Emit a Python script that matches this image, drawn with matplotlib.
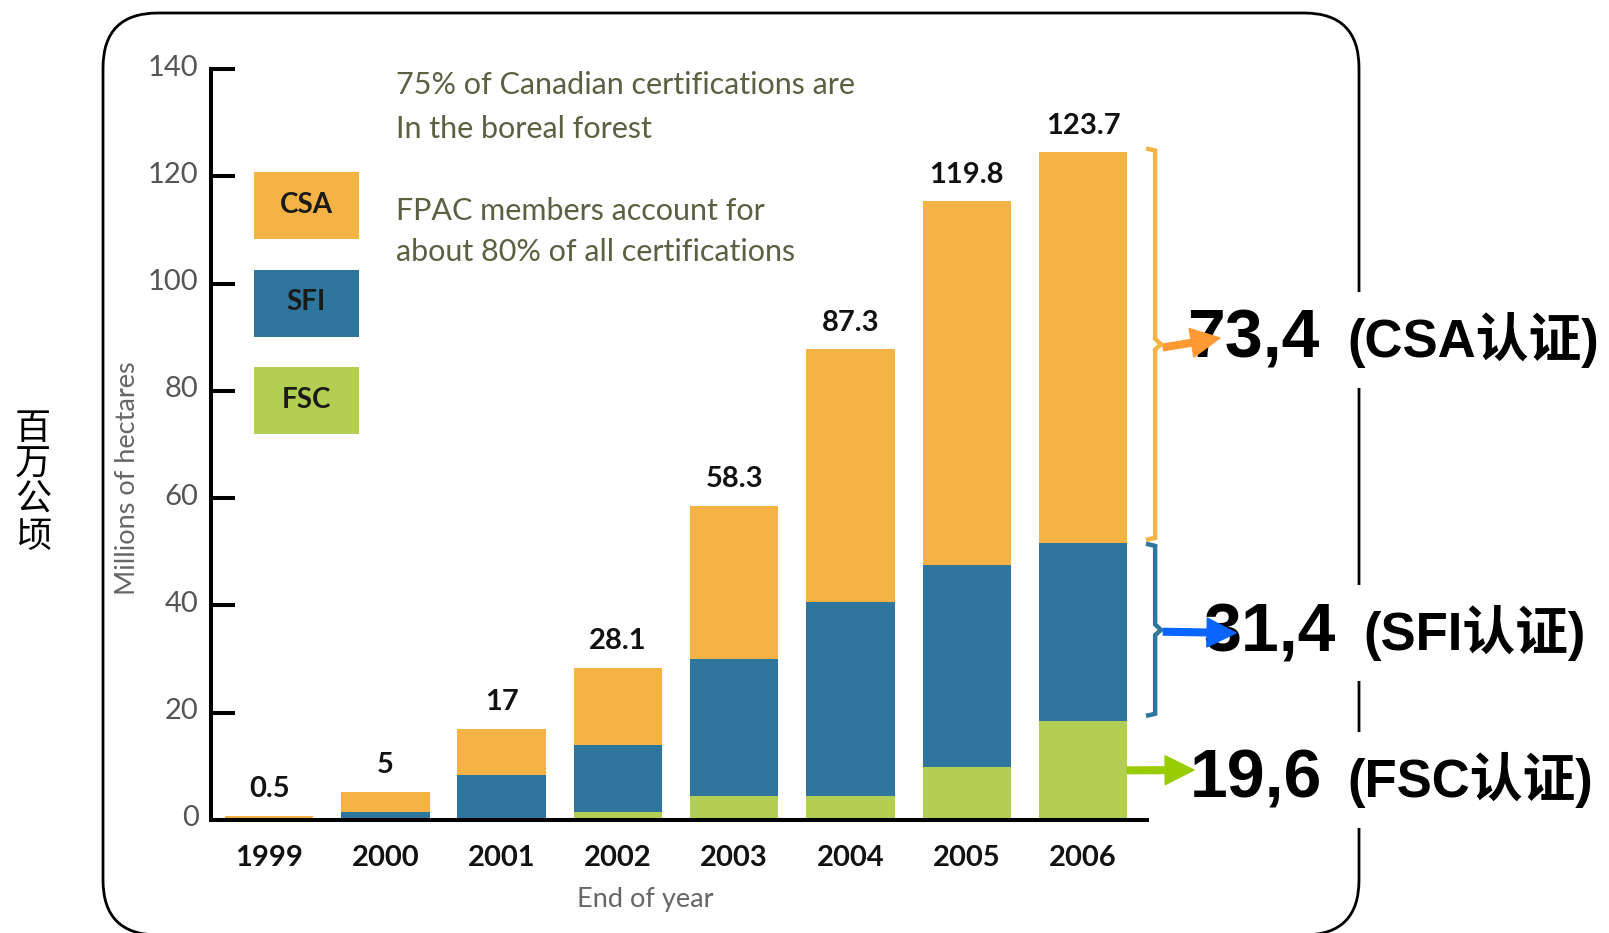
import matplotlib
matplotlib.use("Agg")
import matplotlib.pyplot as plt
from matplotlib.patches import FancyBboxPatch, Rectangle
from matplotlib.transforms import IdentityTransform, offset_copy

# data (millions of hectares)
years = ['1999', '2000', '2001', '2002', '2003', '2004', '2005', '2006']
fsc = [0, 0, 0, 1.5, 4.5, 4.5, 9.9, 18.5]
sfi = [0, 1.5, 8.4, 12.5, 25.5, 36.2, 37.7, 33.2]
csa = [0.8, 3.8, 8.6, 14.4, 28.6, 47.1, 67.8, 72.8]
total_labels = ['0.5', '5', '17', '28.1', '58.3', '87.3', '119.8', '123.7']

series = ['CSA', 'SFI', 'FSC']
colors = {'CSA': '#f5b345', 'SFI': '#2e769d', 'FSC': '#b2cf53'}

note_lines = ['75% of Canadian certifications are', 'In the boreal forest',
              'FPAC members account for', 'about 80% of all certifications']

call_nums = ['73,4', '31,4', '19,6']
call_texts = ['(CSA认证)', '(SFI认证)', '(FSC认证)']
arrow_colors = ['#ff9a33', '#0a64ff', '#99cc00']

W, H = 1609, 933
fig = plt.figure(figsize=(W / 100, H / 100), dpi=100)
fig.patch.set_facecolor('white')


def fx(x):
    return x / W


def fy(y):
    return 1 - y / H


ax = fig.add_axes([fx(211), fy(820), fx(1147) - fx(211), fy(69) - fy(820)])
ax.set_zorder(5)
ax.patch.set_alpha(0)

x = list(range(len(years)))
bw = 0.76
bottom2 = [a + b for a, b in zip(fsc, sfi)]
totals = [a + b for a, b in zip(bottom2, csa)]
ax.bar(x, fsc, bw, color=colors['FSC'], zorder=1)
ax.bar(x, sfi, bw, bottom=fsc, color=colors['SFI'], zorder=1)
ax.bar(x, csa, bw, bottom=bottom2, color=colors['CSA'], zorder=1)

for i, lab in enumerate(total_labels):
    ax.annotate(lab, (i, totals[i]), xytext=(0, 19), textcoords='offset points',
                ha='center', va='center', fontsize=21, fontweight='bold',
                family='Lato', color='#111111')

ax.set_xlim(-0.5, 7.55)
ax.set_ylim(0, 140)
ax.set_yticks(range(0, 141, 20))
ax.set_xticks(x)
ax.set_xticklabels(years, fontsize=21, fontweight='bold', family='Lato', color='#111111')
ax.tick_params(axis='y', direction='in', length=17, width=2.9, pad=9)
ax.tick_params(axis='x', length=0, pad=18)
for t in ax.get_yticklabels():
    t.set_family('Lato')
    t.set_fontsize(21)
    t.set_color('#555555')
    t.set_transform(offset_copy(t.get_transform(), fig=fig, x=0, y=4, units='dots'))
for s in ['top', 'right']:
    ax.spines[s].set_visible(False)
for s in ['left', 'bottom']:
    ax.spines[s].set_linewidth(2.9)

# braces beside the 2006 bar
last = len(years) - 1
bx = 7.62
for lo, hi, c in [(bottom2[last] + 0.6, totals[last] + 0.6, colors['CSA']),
                  (fsc[last] + 1.0, bottom2[last] - 0.3, colors['SFI'])]:
    mid = (lo + hi) / 2
    ax.plot([bx - 0.06, bx, bx, bx + 0.05, bx, bx, bx - 0.06],
            [hi, hi - 0.3, mid + 1.0, mid, mid - 1.0, lo + 0.3, lo],
            color=c, lw=3.2, clip_on=False, solid_joinstyle='miter')

# arrows to the call-outs
mids = [bottom2[last] + csa[last] / 2, fsc[last] + sfi[last] / 2, fsc[last] / 2]
tails = [bx + 0.07, bx + 0.07, 7.38]
tips = [(1220, 338), (1236, 633), (1194, 770)]
for m, tx, tip, c in zip(mids, tails, tips, arrow_colors):
    ax.annotate('', xy=(tip[0], H - tip[1]), xycoords='figure pixels',
                xytext=(tx, m), textcoords='data', annotation_clip=False,
                arrowprops=dict(arrowstyle='simple,head_length=1.3,head_width=1.3,tail_width=0.3',
                                mutation_scale=16, color=c, shrinkA=0, shrinkB=0))

# call-out texts
num_x = [1187, 1203, 1190]
lab_x = [1347, 1363, 1347]
call_y = [340, 633, 780]
for n, t, nxp, lxp, yy in zip(call_nums, call_texts, num_x, lab_x, call_y):
    fig.text(fx(nxp), fy(yy), n, ha='left', va='center', fontsize=49, fontweight='bold',
             family=['Liberation Sans', 'Noto Sans CJK SC'], color='black', zorder=3,
             bbox=dict(facecolor='white', edgecolor='none', pad=8))
    fig.text(fx(lxp), fy(yy), t, ha='left', va='center', fontsize=38, fontweight='bold',
             family=['Liberation Sans', 'Noto Sans CJK SC'], color='black', zorder=3,
             bbox=dict(facecolor='white', edgecolor='none', pad=14))

# rounded frame
frame = FancyBboxPatch((103, -2), 1256, 922, boxstyle='round,pad=0,rounding_size=55',
                       transform=IdentityTransform(), facecolor='none',
                       edgecolor='black', lw=2.0, zorder=1)
fig.add_artist(frame)

# legend boxes
for k, name in enumerate(series):
    top = 172 + k * 97.5
    fig.add_artist(Rectangle((fx(254), fy(top + 67)), fx(105), 67 / H,
                             transform=fig.transFigure, facecolor=colors[name],
                             edgecolor='none', zorder=2))
    fig.text(fx(306), fy(top + 33), name, ha='center', va='center', fontsize=20,
             fontweight='bold', family='Lato', color='#1a1a1a', zorder=3)

# notes
for line, yy in zip(note_lines, [85, 129, 211, 252]):
    fig.text(fx(396), fy(yy), line, ha='left', va='center', fontsize=22,
             family='Lato', color='#5a6142', zorder=3)

fig.text(fx(128), fy(478), 'Millions of hectares', rotation=90, ha='center', va='center',
         fontsize=19.5, family='Lato', color='#666666')
fig.text(fx(645), fy(899), 'End of year', ha='center', va='center', fontsize=19.5,
         family='Lato', color='#666666')
fig.text(fx(33), fy(483), '百\n万\n公\n顷', ha='center', va='center', fontsize=26,
         family=['Noto Sans CJK SC', 'DejaVu Sans'], color='black', linespacing=1.0)

fig.savefig('out.png', dpi=100, facecolor='white')
